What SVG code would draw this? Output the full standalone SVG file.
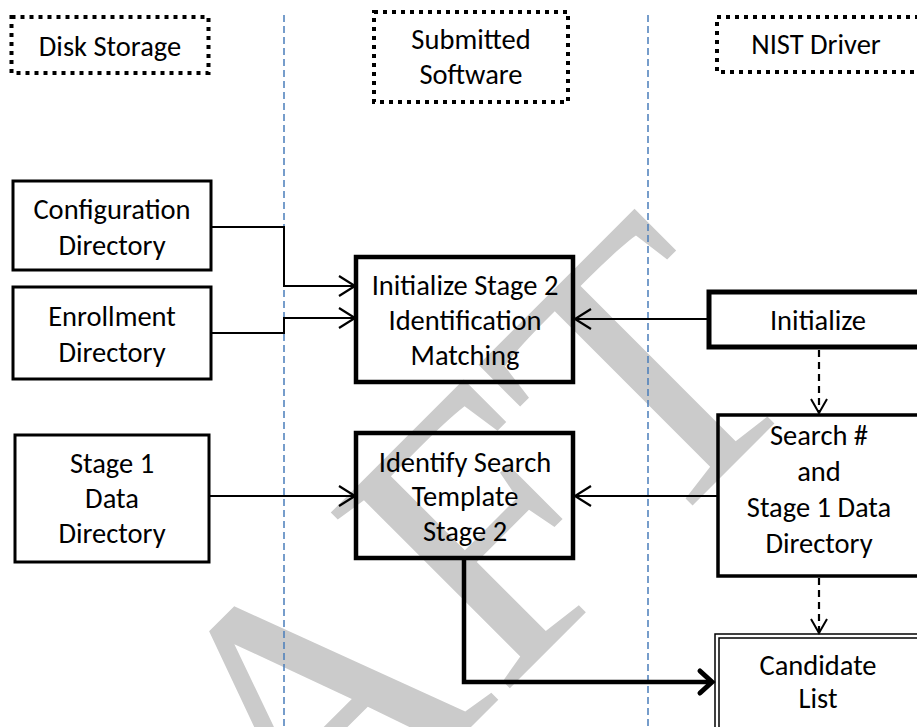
<svg xmlns="http://www.w3.org/2000/svg" width="917" height="727" viewBox="0 0 917 727">
<style>
.lbl{font-family:Carlito,Lato,"Liberation Sans",sans-serif;font-size:28.5px;fill:#000;text-anchor:middle}
.box{fill:none;stroke:#000;stroke-width:3}
.boxb{fill:none;stroke:#000;stroke-width:4.5}
.hdr{fill:none;stroke:#000;stroke-width:4;stroke-dasharray:4 5}
.lane{stroke:#4a7ebb;stroke-width:1.5;stroke-dasharray:7 4;fill:none}
.con{fill:none;stroke:#000;stroke-width:2}
.dash{fill:none;stroke:#000;stroke-width:2.2;stroke-dasharray:7 5}
.thick{fill:none;stroke:#000;stroke-width:4.5}
.wm{font-family:"Liberation Serif","Times New Roman",serif;font-size:383px;fill:#cbcbcb}
</style>
<defs>
<marker id="arr" markerUnits="userSpaceOnUse" viewBox="-18 -12 20 24" refX="0" refY="0" markerWidth="20" markerHeight="24" orient="auto" overflow="visible">
<path d="M-16,-10 L0,0 L-16,10" fill="none" stroke="#000" stroke-width="2.2"/>
</marker>
<marker id="arrD" markerUnits="userSpaceOnUse" viewBox="-16 -10 18 20" refX="0" refY="0" markerWidth="18" markerHeight="20" orient="auto" overflow="visible">
<path d="M-14,-8 L0,0 L-14,8" fill="none" stroke="#000" stroke-width="2"/>
</marker>
<marker id="arrT" markerUnits="userSpaceOnUse" viewBox="-16 -14 20 28" refX="0" refY="0" markerWidth="20" markerHeight="28" orient="auto" overflow="visible">
<path d="M-12,-11 L0,0 L-12,11" fill="none" stroke="#000" stroke-width="5" stroke-linecap="round"/>
</marker>
</defs>
<rect width="917" height="727" fill="#fff"/>
<g id="watermark">
<text class="wm" transform="translate(-71.5,1269.5) rotate(-45)" x="0" y="0">DRAFT</text>
</g>
<g id="lanes">
<line class="lane" x1="284" y1="15" x2="284" y2="727"/>
<line class="lane" x1="648" y1="15" x2="648" y2="727"/>
</g>
<g id="hdr-disk"><rect class="hdr" x="11.5" y="17" width="197" height="56"/><text class="lbl" x="110" y="56">Disk Storage</text></g>
<g id="hdr-sw"><rect class="hdr" x="374" y="12" width="194" height="90"/><text class="lbl" x="471" y="49">Submitted</text><text class="lbl" x="471" y="84">Software</text></g>
<g id="hdr-nist"><rect class="hdr" x="717" y="17" width="215" height="55"/><text class="lbl" x="816" y="54">NIST Driver</text></g>
<g id="config"><rect class="box" x="13" y="181" width="198" height="89"/><text class="lbl" x="112" y="219">Configuration</text><text class="lbl" x="112" y="255">Directory</text></g>
<g id="enroll"><rect class="box" x="13" y="287" width="198" height="92"/><text class="lbl" x="112" y="326">Enrollment</text><text class="lbl" x="112" y="362">Directory</text></g>
<g id="stage1"><rect class="box" x="15" y="435" width="194" height="127"/><text class="lbl" x="112" y="473">Stage 1</text><text class="lbl" x="112" y="508">Data</text><text class="lbl" x="112" y="543">Directory</text></g>
<g id="init2"><rect class="boxb" x="356" y="257" width="217" height="125"/><text class="lbl" x="465" y="295">Initialize Stage 2</text><text class="lbl" x="465" y="330">Identification</text><text class="lbl" x="465" y="365">Matching</text></g>
<g id="identify"><rect class="boxb" x="356" y="433" width="217" height="125"/><text class="lbl" x="465" y="472">Identify Search</text><text class="lbl" x="465" y="506">Template</text><text class="lbl" x="465" y="541">Stage 2</text></g>
<g id="initialize"><rect class="boxb" x="709" y="292" width="225" height="55" style="stroke-width:5"/><text class="lbl" x="818" y="330">Initialize</text></g>
<g id="search"><rect class="box" x="718" y="415" width="215" height="161" style="stroke-width:3.5"/><text class="lbl" x="819" y="445">Search #</text><text class="lbl" x="819" y="481">and</text><text class="lbl" x="819" y="517">Stage 1 Data</text><text class="lbl" x="819" y="553">Directory</text></g>
<g id="candidate"><rect x="715" y="634" width="220" height="110" fill="none" stroke="#000" stroke-width="1.5"/><rect x="719" y="638" width="212" height="102" fill="none" stroke="#000" stroke-width="1.5"/><text class="lbl" x="818" y="675">Candidate</text><text class="lbl" x="818" y="708">List</text></g>
<g id="connectors">
<path class="con" d="M211,227 H284 V286 H355" marker-end="url(#arr)"/>
<path class="con" d="M211,333 H284 V318 H355" marker-end="url(#arr)"/>
<path class="con" d="M709,319 H575" marker-end="url(#arr)"/>
<path class="con" d="M209,496 H355" marker-end="url(#arr)"/>
<path class="con" d="M718,496 H575" marker-end="url(#arr)"/>
<path class="dash" d="M819,350 V413" marker-end="url(#arrD)"/>
<path class="dash" d="M819,578 V633" marker-end="url(#arrD)"/>
<path class="thick" d="M464,560 V682 H712" marker-end="url(#arrT)"/>
</g>
</svg>
